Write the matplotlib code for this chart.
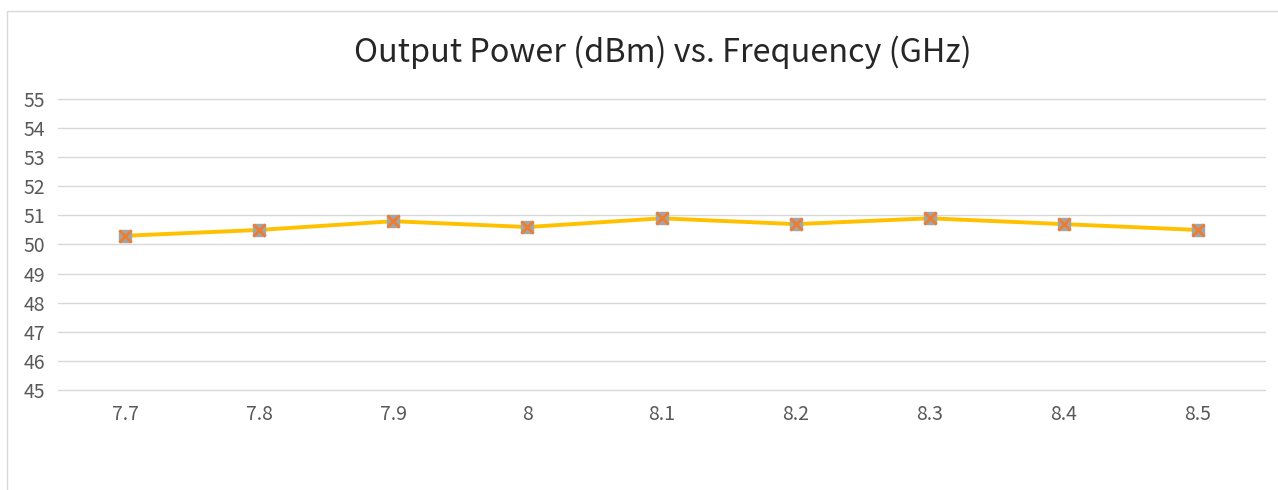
import matplotlib
matplotlib.use("Agg")
import matplotlib.pyplot as plt
from matplotlib.patches import Rectangle

categories = ["7.7", "7.8", "7.9", "8", "8.1", "8.2", "8.3", "8.4", "8.5"]
power = [50.3, 50.5, 50.8, 50.6, 50.9, 50.7, 50.9, 50.7, 50.5]
yticks = [45, 46, 47, 48, 49, 50, 51, 52, 53, 54, 55]

plt.rcParams['font.family'] = ['Noto Sans CJK SC', 'DejaVu Sans']

fig = plt.figure(figsize=(12.78, 4.9), dpi=100)
fig.patches.append(Rectangle((7/1278, -0.1), 1.2, 1 - 11/490 + 0.1, transform=fig.transFigure,
                             fill=False, edgecolor='#D9D9D9', linewidth=1.0))
ax = fig.add_axes([58/1278, 1 - 390/490, (1265 - 58)/1278, (390 - 99)/490])

x = list(range(len(categories)))
ax.plot(x, power, color='#FFC000', linewidth=2.8, zorder=3)
ax.plot(x, power, linestyle='none', marker='s', markersize=9, color='#A5A5A5', zorder=4)
ax.plot(x, power, linestyle='none', marker='x', markersize=8, markeredgewidth=2.0, color='#ED7D31', zorder=5)

ax.set_xlim(-0.5, len(categories) - 0.5)
ax.set_ylim(45, 55)
ax.set_yticks(yticks)
ax.set_xticks(x)
ax.set_xticklabels(categories)
ax.grid(axis='y', color='#D9D9D9', linewidth=1.0, zorder=0)
for gl in ax.get_ygridlines():
    gl.set_clip_on(False)
for s in ax.spines.values():
    s.set_visible(False)
ax.tick_params(axis='both', length=0, labelsize=14, colors='#595959')
ax.tick_params(axis='x', pad=10)
ax.tick_params(axis='y', pad=9.5)

fig.text(663/1278, 1 - 52/490, "Output Power (dBm) vs. Frequency (GHz)", ha='center', va='center',
         fontsize=23.3, color='#262626', fontweight='light')

fig.savefig("out.png", dpi=100)
